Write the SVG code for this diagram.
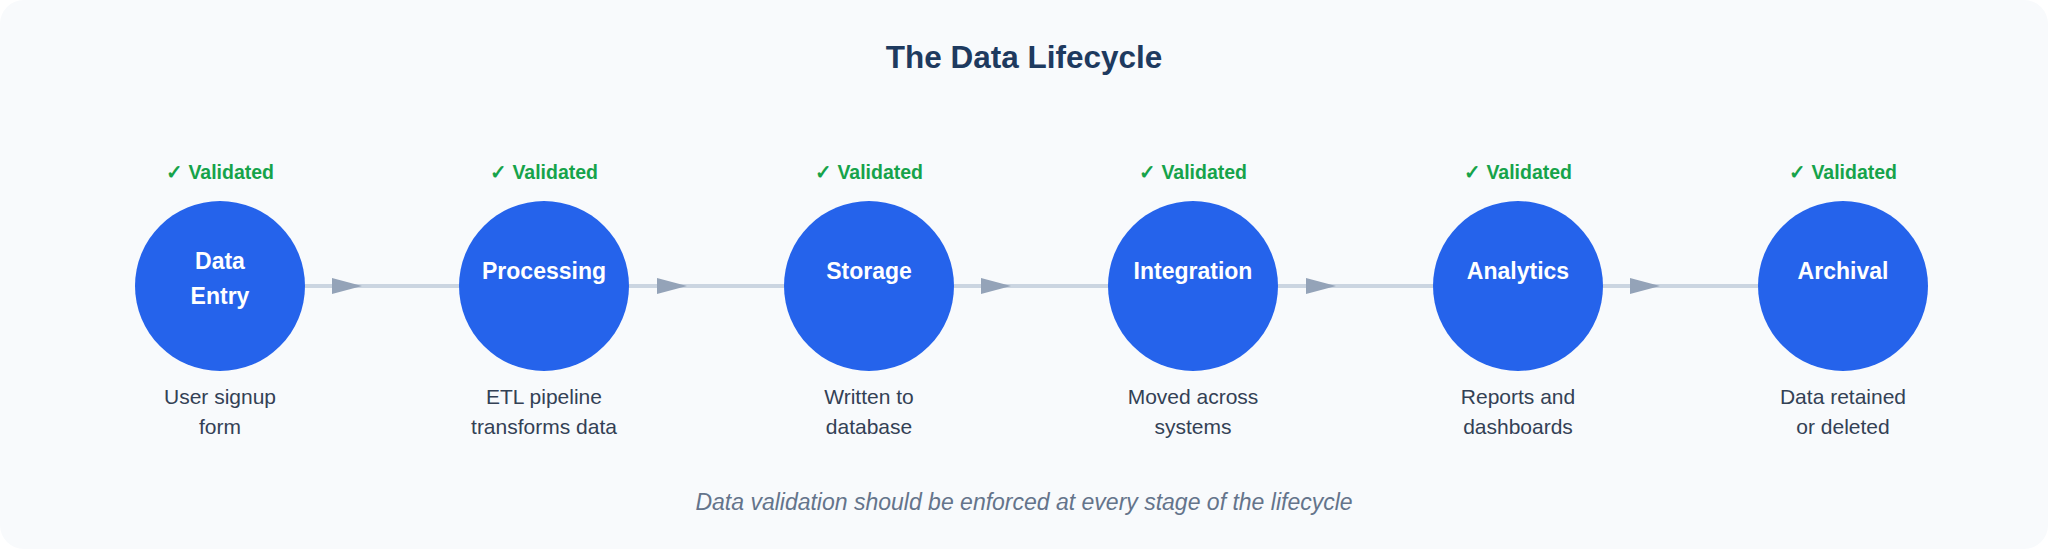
<svg xmlns="http://www.w3.org/2000/svg" width="2048" height="549" viewBox="0 0 2048 549">
<defs><style>
.c{fill:#2563eb}
.n{font-family:"Liberation Sans",Arial,sans-serif;font-size:23px;font-weight:bold;fill:#fff;text-anchor:middle}
.v{font-family:"Liberation Sans",Arial,sans-serif;font-size:19.5px;font-weight:bold;fill:#16a34a;text-anchor:middle}
.d{font-family:"Liberation Sans",Arial,sans-serif;font-size:21px;fill:#334155;text-anchor:middle}
.l{stroke:#cbd5e1;stroke-width:4}
.a{fill:#94a3b8}
</style></defs>
<rect width="2048" height="549" rx="24" fill="#f8fafc"/>
<text x="1024" y="68" font-family="Liberation Sans,Arial,sans-serif" font-size="31.5" font-weight="bold" fill="#1e3a5f" text-anchor="middle">The Data Lifecycle</text>
<g id="connectors">
<line class="l" x1="233" y1="286" x2="460" y2="286"/><polygon class="a" points="332,278 362,286 332,294"/>
<line class="l" x1="557" y1="286" x2="785" y2="286"/><polygon class="a" points="657,278 687,286 657,294"/>
<line class="l" x1="881" y1="286" x2="1109" y2="286"/><polygon class="a" points="981,278 1011,286 981,294"/>
<line class="l" x1="1206" y1="286" x2="1434" y2="286"/><polygon class="a" points="1306,278 1336,286 1306,294"/>
<line class="l" x1="1531" y1="286" x2="1758" y2="286"/><polygon class="a" points="1630,278 1660,286 1630,294"/>
</g>
<g id="n1"><text class="v" x="220" y="179">✓ Validated</text><circle class="c" cx="220" cy="286" r="85"/><text class="n" x="220" y="269">Data</text><text class="n" x="220" y="304">Entry</text><text class="d" x="220" y="404">User signup</text><text class="d" x="220" y="434">form</text></g>
<g id="n2"><text class="v" x="544" y="179">✓ Validated</text><circle class="c" cx="544" cy="286" r="85"/><text class="n" x="544" y="279">Processing</text><text class="d" x="544" y="404">ETL pipeline</text><text class="d" x="544" y="434">transforms data</text></g>
<g id="n3"><text class="v" x="869" y="179">✓ Validated</text><circle class="c" cx="869" cy="286" r="85"/><text class="n" x="869" y="279">Storage</text><text class="d" x="869" y="404">Written to</text><text class="d" x="869" y="434">database</text></g>
<g id="n4"><text class="v" x="1193" y="179">✓ Validated</text><circle class="c" cx="1193" cy="286" r="85"/><text class="n" x="1193" y="279">Integration</text><text class="d" x="1193" y="404">Moved across</text><text class="d" x="1193" y="434">systems</text></g>
<g id="n5"><text class="v" x="1518" y="179">✓ Validated</text><circle class="c" cx="1518" cy="286" r="85"/><text class="n" x="1518" y="279">Analytics</text><text class="d" x="1518" y="404">Reports and</text><text class="d" x="1518" y="434">dashboards</text></g>
<g id="n6"><text class="v" x="1843" y="179">✓ Validated</text><circle class="c" cx="1843" cy="286" r="85"/><text class="n" x="1843" y="279">Archival</text><text class="d" x="1843" y="404">Data retained</text><text class="d" x="1843" y="434">or deleted</text></g>
<text x="1024" y="510" font-family="Liberation Sans,Arial,sans-serif" font-size="23" font-style="italic" fill="#64748b" text-anchor="middle">Data validation should be enforced at every stage of the lifecycle</text>
</svg>
